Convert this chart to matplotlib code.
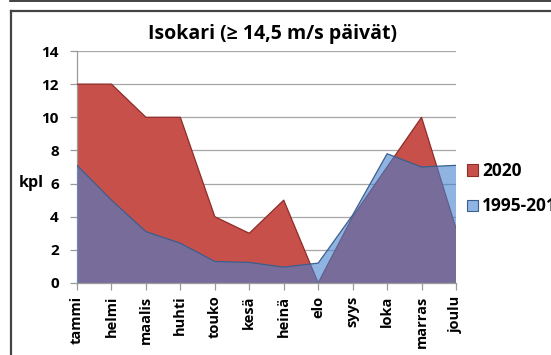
import numpy as np
import matplotlib.pyplot as plt
from matplotlib.patches import Patch
from matplotlib.lines import Line2D

plt.rcParams['font.family'] = ['Open Sans', 'DejaVu Sans']

months = ["tammi", "helmi", "maalis", "huhti", "touko", "kesä",
          "heinä", "elo", "syys", "loka", "marras", "joulu"]
days_2020 = [12, 12, 10, 10, 4, 3, 5, 0, 4, 7, 10, 3.3]
days_ref = [7.1, 5.0, 3.1, 2.4, 1.3, 1.24, 0.96, 1.2, 4.1, 7.8, 7.0, 7.1]
series_names = ["2020", "1995-2019"]

red = "#c8504b"
red_edge = "#8e2c28"
blue = "#4482d0"
blue_edge = "#3a5e8e"

W, H = 551, 355
fig = plt.figure(figsize=(W/100, H/100), dpi=100)
ax = fig.add_axes([77/W, 1-283/H, (456-77)/W, (283-51)/H])

x = np.arange(len(months))
ax.fill_between(x, 0, days_2020, facecolor=red, edgecolor="none", zorder=2)
ax.plot(x, days_2020, color=red_edge, lw=0.9, zorder=3)
ax.fill_between(x, 0, days_ref, facecolor=blue, alpha=0.6, edgecolor="none", zorder=4)
ax.plot(x, days_ref, color=blue_edge, lw=0.9, zorder=5)

ax.set_xlim(0, len(months)-1)
ax.set_ylim(0, 14)
ax.set_yticks(range(0, 15, 2))
ax.set_xticks(x)
ax.set_xticklabels(months, rotation=90, fontsize=10.5, fontweight="bold")
for lab in ax.get_yticklabels():
    lab.set_fontweight("bold")
    lab.set_fontsize(11)
ax.grid(axis="y", color="#a6a6a6", lw=0.9, zorder=1)
ax.set_axisbelow(True)
for s in ["top", "right"]:
    ax.spines[s].set_visible(False)
for s in ["left", "bottom"]:
    ax.spines[s].set_color("#9a9a9a")
    ax.spines[s].set_linewidth(0.9)
ax.spines["bottom"].set_zorder(6)
ax.tick_params(axis="both", color="#9a9a9a", length=5, width=0.9)
ax.tick_params(axis="x", pad=4)
ax.tick_params(axis="y", pad=8)

fig.text(272/W, 1-34/H, "Isokari (≥ 14,5 m/s päivät)", fontsize=14, fontweight="bold",
         ha="center", va="center")
fig.text(31/W, 1-183/H, "kpl", fontsize=11.5, fontweight="bold", ha="center", va="center")

handles = [Patch(facecolor=red, edgecolor=red_edge, lw=0.8),
           Patch(facecolor="#8eb5e3", edgecolor=blue_edge, lw=0.8)]
fig.legend(handles, series_names, loc="upper left", bbox_to_anchor=(467/W, 1-162/H),
           frameon=False, borderpad=0, borderaxespad=0, handlelength=0.62,
           handleheight=0.62, handletextpad=0.25, labelspacing=1.0,
           prop={"weight": "bold", "size": 12.5})

# page rule and chart frame
fig.add_artist(Line2D([10/W, 1], [1-1.2/H, 1-1.2/H], color="#222222", lw=1.2))
fig.add_artist(Line2D([11/W, 1], [1-10.5/H, 1-10.5/H], color="#444444", lw=1.6))
fig.add_artist(Line2D([11/W, 11/W], [0, 1-10.5/H], color="#444444", lw=1.6))

fig.savefig("out.png", dpi=100)
